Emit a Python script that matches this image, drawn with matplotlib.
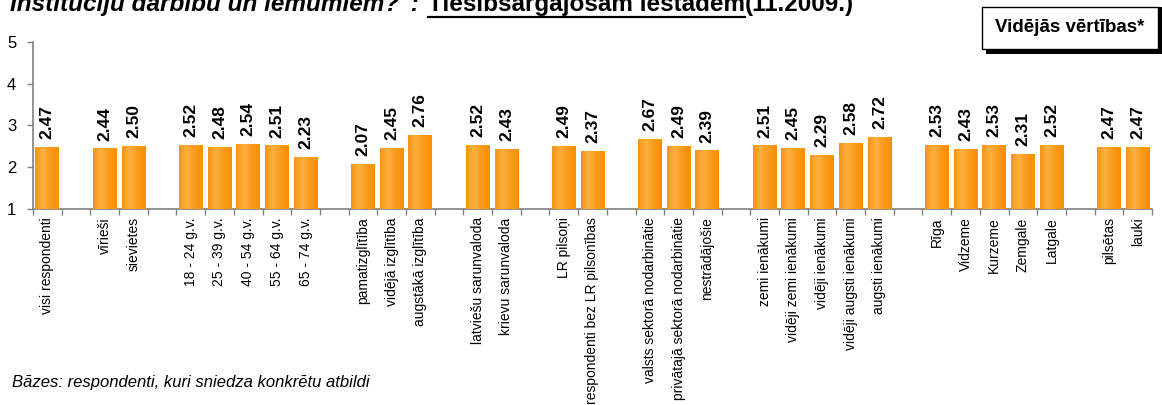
import numpy as np
import matplotlib.pyplot as plt
from matplotlib.lines import Line2D
from matplotlib.patches import Rectangle
from matplotlib.colors import LinearSegmentedColormap

plt.rcParams['font.family'] = ['Liberation Sans', 'DejaVu Sans']

# '' marks an empty slot between groups
categories = ['visi respondenti', '',
              'vīrieši', 'sievietes', '',
              '18 - 24 g.v.', '25 - 39 g.v.', '40 - 54 g.v.', '55 - 64 g.v.', '65 - 74 g.v.', '',
              'pamatizglītība', 'vidējā izglītība', 'augstākā izglītība', '',
              'latviešu sarunvaloda', 'krievu sarunvaloda', '',
              'LR pilsoņi', 'respondenti bez LR pilsonības', '',
              'valsts sektorā nodarbinātie', 'privātajā sektorā nodarbinātie', 'nestrādājošie', '',
              'zemi ienākumi', 'vidēji zemi ienākumi', 'vidēji ienākumi',
              'vidēji augsti ienākumi', 'augsti ienākumi', '',
              'Rīga', 'Vidzeme', 'Kurzeme', 'Zemgale', 'Latgale', '',
              'pilsētas', 'lauki']
values = [2.47, np.nan,
          2.44, 2.50, np.nan,
          2.52, 2.48, 2.54, 2.51, 2.23, np.nan,
          2.07, 2.45, 2.76, np.nan,
          2.52, 2.43, np.nan,
          2.49, 2.37, np.nan,
          2.67, 2.49, 2.39, np.nan,
          2.51, 2.45, 2.29, 2.58, 2.72, np.nan,
          2.53, 2.43, 2.53, 2.31, 2.52, np.nan,
          2.47, 2.47]

title_a = 'Institūciju darbību un lēmumiem?": '
title_b = 'Tiesībsargājošām iestādēm'
title_c = '(11.2009.)'
legend_text = 'Vidējās vērtības*'
note = 'Bāzes: respondenti, kuri sniedza konkrētu atbildi'

W, H = 1162, 405
fig = plt.figure(figsize=(W / 100, H / 100), dpi=100)
ax = fig.add_axes([33 / W, 1 - 209 / H, (1152 - 33) / W, (209 - 42) / H])

x = np.arange(len(categories))
bars = ax.bar(x, np.array(values) - 1, bottom=1, width=0.83, color='#FBA026', zorder=2)

# horizontal gradient on each bar
cmap = LinearSegmentedColormap.from_list('org', ['#F79418', '#FDB040', '#FB9A1A', '#F89000'])
grad = np.linspace(0, 1, 64).reshape(1, -1)
for b in bars:
    if np.isnan(b.get_height()):
        continue
    x0, y0 = b.get_x(), b.get_y()
    ax.imshow(grad, cmap=cmap, aspect='auto', zorder=3,
              extent=[x0, x0 + b.get_width(), y0, y0 + b.get_height()])

for xi, v in zip(x, values):
    if np.isnan(v):
        continue
    ax.annotate(f'{v:.2f}', (xi, v), xytext=(0, 6), textcoords='offset points',
                rotation=90, ha='center', va='bottom', fontsize=12.5, fontweight='bold')

ax.set_xlim(-0.5, len(categories) - 0.5)
ax.set_ylim(1, 5)
ax.set_yticks([1, 2, 3, 4, 5])
ax.tick_params(axis='y', labelsize=12, length=4, width=1, color='#808080', pad=8)
ax.set_xticks(x)
ax.set_xticklabels(categories, rotation=90, fontsize=10, va='top')
ax.tick_params(axis='x', length=0, pad=6)
ax.set_xticks(np.arange(-0.5, len(categories)), minor=True)
ax.tick_params(axis='x', which='minor', length=4, width=1, color='#808080')
for s in ['top', 'right']:
    ax.spines[s].set_visible(False)
for s in ['left', 'bottom']:
    ax.spines[s].set_color('#808080')
    ax.spines[s].set_linewidth(1.2)

# title, partly cut off at the top edge as in the source
fig.canvas.draw()
r = fig.canvas.get_renderer()
base = 1 - 11.5 / H
tb = fig.text(428 / W, base, title_b, fontsize=17.5, fontweight='bold', va='baseline', ha='left')
fig.text(426 / W, base, title_a, fontsize=17.5, fontweight='bold', style='italic',
         va='baseline', ha='right')
eb = tb.get_window_extent(r)
fig.text(eb.x1 / W, base, title_c, fontsize=17.5, fontweight='bold', va='baseline', ha='left')
fig.add_artist(Line2D([eb.x0 / W, eb.x1 / W], [1 - 17 / H] * 2, color='black', lw=1.6,
                      transform=fig.transFigure))

# legend-like box with shadow
fig.add_artist(Rectangle((986 / W, 1 - 54 / H), 176 / W, 47 / H, transform=fig.transFigure,
                         facecolor='black', edgecolor='none'))
fig.add_artist(Rectangle((982 / W, 1 - 49 / H), 176 / W, 42 / H, transform=fig.transFigure,
                         facecolor='white', edgecolor='black', lw=1))
fig.text(1070 / W, 1 - 28 / H, legend_text, fontsize=13.5, fontweight='bold',
         ha='center', va='center')

fig.text(12 / W, 1 - 383 / H, note, fontsize=12, style='italic', va='center', ha='left')

fig.savefig('out.png', dpi=100)
